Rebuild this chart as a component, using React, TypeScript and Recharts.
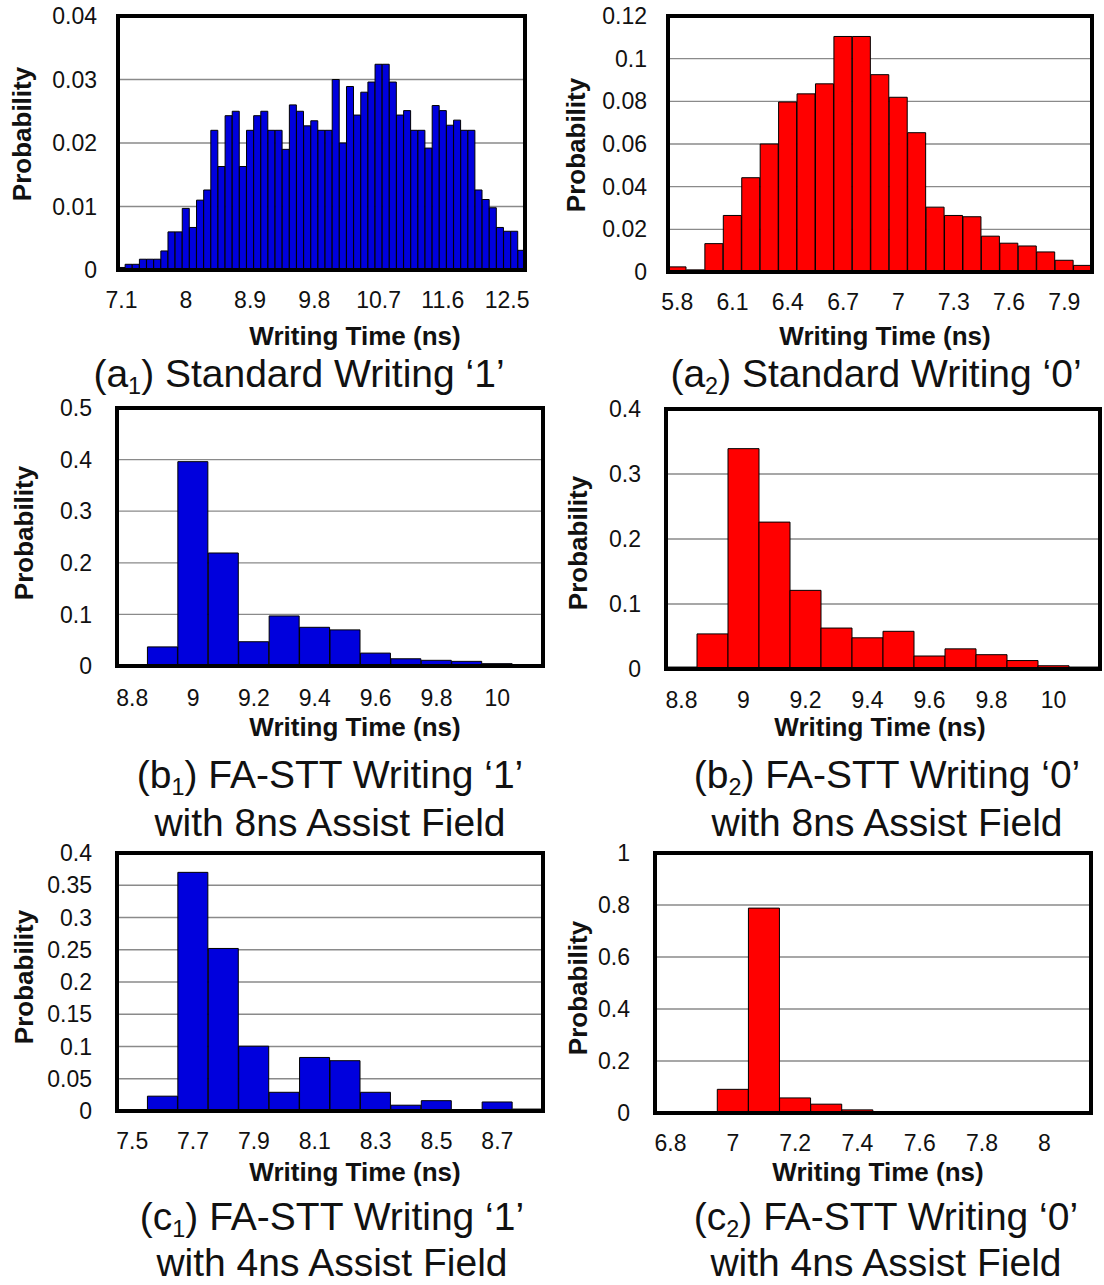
import React from 'react';
import { BarChart, Bar, XAxis, YAxis, CartesianGrid } from 'recharts';

const FONT = '"Liberation Sans", Arial, Helvetica, sans-serif';

// (a1) standard writing '1'
const a1Times = ['7.1','7.2','7.3','7.4','7.5','7.6','7.7','7.8','7.9','8','8.1','8.2','8.3','8.4','8.5','8.6','8.7','8.8','8.9','9','9.1','9.2','9.3','9.4','9.5','9.6','9.7','9.8','9.9','10','10.1','10.2','10.3','10.4','10.5','10.6','10.7','10.8','10.9','11','11.1','11.2','11.3','11.4','11.5','11.6','11.7','11.8','11.9','12','12.1','12.2','12.3','12.4','12.5','12.6','12.7'];
const a1Prob = [0.0004, 0.0009, 0.0009, 0.0017, 0.0017, 0.0017, 0.003, 0.006, 0.006, 0.0097,
  0.0067, 0.011, 0.0126, 0.022, 0.0163, 0.0243, 0.025, 0.0163, 0.022, 0.0243,
  0.025, 0.022, 0.022, 0.019, 0.026, 0.025, 0.0227, 0.0235, 0.022, 0.022,
  0.030, 0.020, 0.0289, 0.0244, 0.028, 0.0296, 0.0324, 0.0324, 0.0296, 0.0244,
  0.0251, 0.022, 0.022, 0.0192, 0.0259, 0.0251, 0.0228, 0.0236, 0.022, 0.022,
  0.0126, 0.0111, 0.0098, 0.0067, 0.0061, 0.0061, 0.0031];
const a1Ticks = [0, 0.01, 0.02, 0.03, 0.04];

// (a2) standard writing '0'
const a2Times = ['5.8','5.9','6','6.1','6.2','6.3','6.4','6.5','6.6','6.7','6.8','6.9','7','7.1','7.2','7.3','7.4','7.5','7.6','7.7','7.8','7.9','8'];
const a2Prob = [0.0024, 0.001, 0.0133, 0.0265, 0.0442, 0.060, 0.0797, 0.0835, 0.0882, 0.1104, 0.1104, 0.0925,
  0.0819, 0.0653, 0.0304, 0.0265, 0.0259, 0.0168, 0.0135, 0.0122, 0.0094, 0.0055, 0.0031];
const a2Ticks = [0, 0.02, 0.04, 0.06, 0.08, 0.1, 0.12];

// (b1) / (b2) FA-STT, 8ns assist field
const bTimes = ['8.8','8.9','9','9.1','9.2','9.3','9.4','9.5','9.6','9.7','9.8','9.9','10','10.1'];
const b1Prob = [0.002, 0.037, 0.396, 0.219, 0.047, 0.097, 0.075, 0.070, 0.025, 0.014, 0.011, 0.009, 0.0045, 0.0026];
const b1Ticks = [0, 0.1, 0.2, 0.3, 0.4, 0.5];
const b2Prob = [0.003, 0.054, 0.339, 0.226, 0.121, 0.063, 0.048, 0.058, 0.020, 0.031, 0.022, 0.013, 0.005, 0.003];
const b2Ticks = [0, 0.1, 0.2, 0.3, 0.4];

// (c1) / (c2) FA-STT, 4ns assist field
const c1Times = ['7.5','7.6','7.7','7.8','7.9','8','8.1','8.2','8.3','8.4','8.5','8.6','8.7','8.8'];
const c1Prob = [0.002, 0.023, 0.37, 0.252, 0.1005, 0.029, 0.083, 0.078, 0.029, 0.009, 0.016, 0.002, 0.014, 0.003];
const c1Ticks = [0, 0.05, 0.1, 0.15, 0.2, 0.25, 0.3, 0.35, 0.4];
const c2Times = ['6.8','6.9','7','7.1','7.2','7.3','7.4','7.5','7.6','7.7','7.8','7.9','8','8.1'];
const c2Prob = [0, 0, 0.091, 0.788, 0.058, 0.034, 0.012, 0, 0, 0, 0, 0, 0, 0];
const c2Ticks = [0, 0.2, 0.4, 0.6, 0.8, 1];

const YW = 110;
const MT = 20;
const MR = 12;
const XH = 50;

type PanelProps = {
  times: string[];
  probs: number[];
  color: string;
  yTicks: number[];
  every: number;
  left: number;
  top: number;
  width: number;
  height: number;
  yGap: number;
  xGap: number;
};

const Panel = ({ times, probs, color, yTicks, every, left, top, width, height, yGap, xGap }: PanelProps) => {
  const data = times.map((t, i) => ({ t, p: probs[i] }));
  const yMax = yTicks[yTicks.length - 1];
  const tickStyle = { fontSize: 23, fill: '#111', fontFamily: FONT };
  return (
    <div style={{ position: 'absolute', left: left - YW, top: top - MT }}>
      <BarChart
        width={YW + width + MR}
        height={MT + height + XH}
        data={data}
        margin={{ top: MT, right: MR, bottom: 0, left: 0 }}
        barCategoryGap={0}
        barGap={0}
      >
        <CartesianGrid vertical={false} stroke="#8a8a8a" strokeWidth={1.3} />
        <XAxis
          dataKey="t"
          interval={every - 1}
          tickLine={false}
          axisLine={false}
          tickSize={0}
          tickMargin={xGap}
          height={XH}
          tick={tickStyle}
        />
        <YAxis
          type="number"
          domain={[0, yMax]}
          ticks={yTicks}
          interval={0}
          width={YW}
          tickLine={false}
          axisLine={false}
          tickSize={0}
          tickMargin={yGap}
          tick={tickStyle}
        />
        <Bar dataKey="p" fill={color} stroke="#000" strokeWidth={1} isAnimationActive={false} />
      </BarChart>
      {/* heavy Excel-style plot frame */}
      <div
        style={{
          position: 'absolute',
          left: YW - 2,
          top: MT - 2,
          width: width + 4,
          height: height + 4,
          border: '4px solid #000',
          boxSizing: 'border-box',
          pointerEvents: 'none',
        }}
      />
    </div>
  );
};

const Txt = ({ x, y, size, bold, rotate, lh, children }: { x: number; y: number; size: number; bold?: boolean; rotate?: boolean; lh?: number; children: React.ReactNode }) => (
  <div
    style={{
      position: 'absolute',
      left: x,
      top: y,
      transform: `translate(-50%, -50%)${rotate ? ' rotate(-90deg)' : ''}`,
      fontSize: size,
      fontWeight: bold ? 700 : 400,
      fontFamily: FONT,
      lineHeight: lh ? `${lh}px` : 1,
      whiteSpace: 'nowrap',
      textAlign: 'center',
      color: '#111',
    }}
  >
    {children}
  </div>
);

const Sub = ({ children }: { children: React.ReactNode }) => (
  <span style={{ fontSize: '0.6em', lineHeight: 0, position: 'relative', top: '0.3em' }}>{children}</span>
);

const CAP = 39;
const AX = 26;

export default function App() {
  return (
    <div style={{ position: 'absolute', left: 0, top: 0, width: 1104, height: 1285, background: '#fff', overflow: 'hidden' }}>
      <Panel times={a1Times} probs={a1Prob} color="#0000dd" yTicks={a1Ticks} every={9}
        left={118} top={16} width={407} height={254} yGap={21} xGap={22} />
      <Panel times={a2Times} probs={a2Prob} color="#ff0000" yTicks={a2Ticks} every={3}
        left={668} top={16} width={424} height={256} yGap={21} xGap={22} />
      <Panel times={bTimes} probs={b1Prob} color="#0000dd" yTicks={b1Ticks} every={2}
        left={117} top={408} width={426} height={258} yGap={25} xGap={24} />
      <Panel times={bTimes} probs={b2Prob} color="#ff0000" yTicks={b2Ticks} every={2}
        left={666} top={409} width={434} height={260} yGap={25} xGap={23} />
      <Panel times={c1Times} probs={c1Prob} color="#0000dd" yTicks={c1Ticks} every={2}
        left={117} top={853} width={426} height={258} yGap={25} xGap={22} />
      <Panel times={c2Times} probs={c2Prob} color="#ff0000" yTicks={c2Ticks} every={2}
        left={655} top={853} width={436} height={260} yGap={25} xGap={22} />

      <Txt x={22} y={134} size={AX} bold rotate>Probability</Txt>
      <Txt x={576} y={145} size={AX} bold rotate>Probability</Txt>
      <Txt x={24} y={533} size={AX} bold rotate>Probability</Txt>
      <Txt x={578} y={543} size={AX} bold rotate>Probability</Txt>
      <Txt x={24} y={977} size={AX} bold rotate>Probability</Txt>
      <Txt x={578} y={988} size={AX} bold rotate>Probability</Txt>

      <Txt x={355} y={336} size={AX} bold>Writing Time (ns)</Txt>
      <Txt x={885} y={336} size={AX} bold>Writing Time (ns)</Txt>
      <Txt x={355} y={727} size={AX} bold>Writing Time (ns)</Txt>
      <Txt x={880} y={727} size={AX} bold>Writing Time (ns)</Txt>
      <Txt x={355} y={1172} size={AX} bold>Writing Time (ns)</Txt>
      <Txt x={878} y={1172} size={AX} bold>Writing Time (ns)</Txt>

      <Txt x={299} y={373} size={CAP}>(a<Sub>1</Sub>) Standard Writing ‘1’</Txt>
      <Txt x={876} y={373} size={CAP}>(a<Sub>2</Sub>) Standard Writing ‘0’</Txt>
      <Txt x={330} y={799} size={CAP} lh={48}>(b<Sub>1</Sub>) FA-STT Writing ‘1’<br />with 8ns Assist Field</Txt>
      <Txt x={887} y={799} size={CAP} lh={48}>(b<Sub>2</Sub>) FA-STT Writing ‘0’<br />with 8ns Assist Field</Txt>
      <Txt x={332} y={1240} size={CAP} lh={46}>(c<Sub>1</Sub>) FA-STT Writing ‘1’<br />with 4ns Assist Field</Txt>
      <Txt x={886} y={1240} size={CAP} lh={46}>(c<Sub>2</Sub>) FA-STT Writing ‘0’<br />with 4ns Assist Field</Txt>
    </div>
  );
}
